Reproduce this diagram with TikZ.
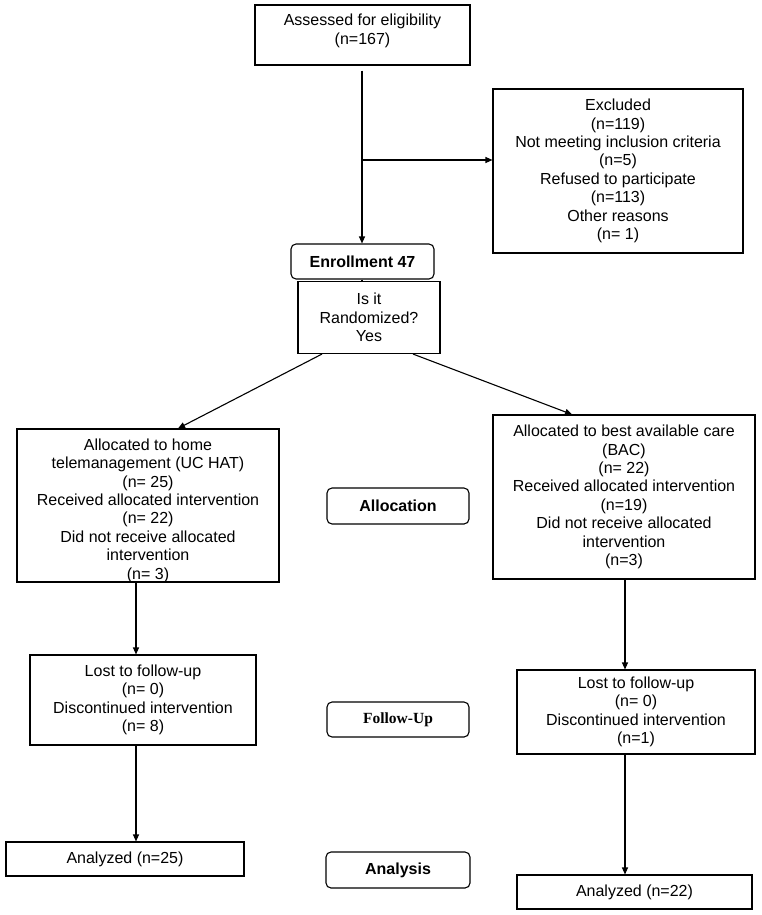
\documentclass[tikz,border=0pt]{standalone}
\usepackage{fontspec}
\setmainfont{Liberation Sans}
\newfontfamily\tnr{Liberation Serif}
\usetikzlibrary{arrows.meta}
\begin{document}
\begin{tikzpicture}[x=1pt,y=-1pt,
  box/.style={draw, line width=1.1pt, inner sep=0pt, align=center, font=\fontsize{16}{18.4}\selectfont},
  txt/.style={inner sep=0pt, align=center, font=\fontsize{16}{18.4}\selectfont},
  rbox/.style={box, rounded corners=5pt, font=\fontsize{16}{18}\selectfont\bfseries},
  arr/.style={line width=1.1pt, -{Triangle[length=7pt,width=6pt]}},
  ln/.style={line width=1.1pt}]
\useasboundingbox (0,0) rectangle (761,915);
\node[box, minimum width=215pt, minimum height=60pt] (A) at (362.5,35) {};
\node[txt] (Atxt) at ([yshift=4pt]A.center) {Assessed for eligibility\\(n=167)};
\node[box, minimum width=250pt, minimum height=164pt] (excl) at (618,171) {Excluded\\(n=119)\\Not meeting inclusion criteria\\(n=5)\\Refused to participate\\(n=113)\\Other reasons\\(n= 1)};
\node[rbox, minimum width=143pt, minimum height=35pt] (enr) at (362.5,261.5) {Enrollment 47};
\node[box, minimum width=142pt, minimum height=72pt] (rand) at (369,317.5) {Is it\\Randomized?\\Yes};
\node[box, minimum width=262pt, minimum height=153pt] (alloc1) at (148,505.5) {};
\node[txt] (alloc1txt) at ([yshift=-5pt]alloc1.center) {Allocated to home\\telemanagement (UC HAT)\\(n= 25)\\Received allocated intervention\\(n= 22)\\Did not receive allocated\\intervention\\(n= 3)};
\node[box, minimum width=262pt, minimum height=164pt] (alloc2) at (624,497) {Allocated to best available care\\(BAC)\\(n= 22)\\Received allocated intervention\\(n=19)\\Did not receive allocated\\intervention\\(n=3)};
\node[rbox, minimum width=142pt, minimum height=36pt] (allocL) at (398,506) {Allocation};
\node[box, minimum width=226pt, minimum height=90pt] (lost1) at (143,700) {Lost to follow-up\\(n= 0)\\Discontinued intervention\\(n= 8)};
\node[box, minimum width=238pt, minimum height=84pt] (lost2) at (636,712) {Lost to follow-up\\(n= 0)\\Discontinued intervention\\(n=1)};
\node[rbox, minimum width=142pt, minimum height=35pt, font=\fontsize{15.5}{17}\selectfont\tnr\bfseries] (fuL) at (398,719.5) {Follow-Up};
\node[box, minimum width=238pt, minimum height=34pt] (an1) at (125,859) {Analyzed (n=25)};
\node[rbox, minimum width=144pt, minimum height=36pt] (anL) at (398,870) {Analysis};
\node[box, minimum width=235pt, minimum height=34pt] (an2) at (634.5,892) {Analyzed (n=22)};
% connectors
\coordinate (j) at (362,160);
\coordinate (lx) at (136,0);
\coordinate (rx) at (625,0);
\draw[arr] ([yshift=-5pt]A.south -| j) -- (enr.north -| j);
\draw[arr] (j) -- (j -| excl.west);
\draw[ln] (enr.south -| j) -- (rand.north -| j);
\draw[arr] ([xshift=-47pt]rand.south) -- ([xshift=30pt]alloc1.north);
\draw[arr] ([xshift=44pt]rand.south) -- ([xshift=-52pt]alloc2.north);
\draw[arr] (alloc1.south -| lx) -- (lost1.north -| lx);
\draw[arr] (lost1.south -| lx) -- (an1.north -| lx);
\draw[arr] (alloc2.south -| rx) -- (lost2.north -| rx);
\draw[arr] (lost2.south -| rx) -- (an2.north -| rx);
\end{tikzpicture}
\end{document}
